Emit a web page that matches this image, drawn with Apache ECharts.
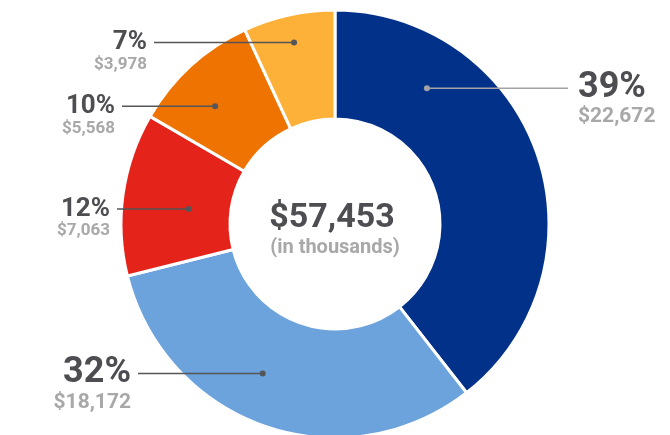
<!DOCTYPE html>
<html><head><meta charset="utf-8">
<script src="https://cdn.jsdelivr.net/npm/echarts@6/dist/echarts.min.js"></script>
<style>html,body{margin:0;padding:0;background:#fff}#c{width:670px;height:435px}</style>
</head><body><div id="c"></div>
<script>
// ---- data ----
const categories = ['Segment 1', 'Segment 2', 'Segment 3', 'Segment 4', 'Segment 5'];
const values = [22672, 18172, 7063, 5568, 3978];
const centerNote = '(in thousands)';

// ---- style ----
const colors = ['#02318A', '#6CA3DD', '#E4231B', '#EF7300', '#FEB139'];
const dotColors = ['#a3a3a6', '#55565a', '#55565a', '#55565a', '#55565a'];
const dotFrac = [0.24, 0.56, 0.45, 0.41, 0.49];   // where the dot sits inside each slice (angular fraction)
const dotR = [164, 166, 147, 168, 186];           // dot radius (px)
const lineEndX = [568, 138, 117, 122, 154];       // x where the leader line ends
const labelSide = ['right', 'left', 'left', 'left', 'left'];
const bigLabel = [true, true, false, false, false];

const CX = 335, CY = 224, R_IN = 105, R_OUT = 214;
const total = values.reduce((a, b) => a + b, 0);
const cum = [];
values.reduce((acc, v, i) => { cum[i] = acc; return acc + v; }, 0);
const dotAngleVal = values.map((v, i) => cum[i] + dotFrac[i] * v);
const fmt = n => n.toLocaleString('en-US');

const chart = echarts.init(document.getElementById('c'), null, { renderer: 'canvas' });

const DARK = '#4d4d52', GREY = '#a8a8a8';
const W = 'bold';

function dotPixel(i) {
  const th = dotAngleVal[i] / total * Math.PI * 2;
  return [CX + dotR[i] * Math.sin(th), CY - dotR[i] * Math.cos(th)];
}

function makeRich(i) {
  const [dx] = dotPixel(i);
  const right = labelSide[i] === 'right';
  const lineLen = Math.abs(dx - lineEndX[i]);
  const gap = right ? 10 : 7;
  const big = bigLabel[i];
  return {
    P: { fontFamily: 'Roboto', fontWeight: W, fontSize: big ? 36 : 26, lineHeight: big ? 36 : 26, color: DARK },
    V: { fontFamily: 'Roboto', fontWeight: W, fontSize: big ? 21 : 17, lineHeight: big ? 22 : 18, color: GREY },
    L: { width: lineLen, height: 1.5, backgroundColor: dotColors[i], verticalAlign: 'middle', fontSize: 1 },
    g: { width: gap, fontSize: 1 },
    h: { width: gap + lineLen, fontSize: 1 }
  };
}

chart.setOption({
  animation: false,
  polar: { center: [CX, CY], radius: R_OUT },
  angleAxis: { type: 'value', min: 0, max: total, startAngle: 90, clockwise: true, show: false },
  radiusAxis: { type: 'value', min: 0, max: R_OUT, show: false },
  graphic: [
    { type: 'text', x: CX - 3, y: 218, z: 100,
      style: { text: '$' + fmt(total), fontFamily: 'Roboto', fontWeight: W, fontSize: 34, fill: DARK, align: 'center', verticalAlign: 'middle' } },
    { type: 'text', x: CX, y: 248, z: 100,
      style: { text: centerNote, fontFamily: 'Roboto', fontWeight: W, fontSize: 20, fill: GREY, align: 'center', verticalAlign: 'middle' } }
  ],
  series: [
    {
      type: 'pie',
      z: 1,
      center: [CX, CY],
      radius: [R_IN, R_OUT],
      startAngle: 90,
      clockwise: true,
      silent: true,
      itemStyle: { borderColor: '#ffffff', borderWidth: 3 },
      label: { show: false },
      labelLine: { show: false },
      data: values.map((v, i) => ({
        name: categories[i],
        value: v,
        itemStyle: { color: colors[i] }
      }))
    },
    {
      type: 'scatter',
      coordinateSystem: 'polar',
      silent: true,
      z: 10,
      symbol: 'circle',
      symbolSize: 6,
      itemStyle: { opacity: 1 },
      label: {
        show: true,
        position: 'top',
        formatter: p => {
          const i = p.dataIndex;
          const v = values[i];
          const pct = Math.round(v / total * 100);
          return labelSide[i] === 'right'
            ? `{L| }{g| }{P|${pct}%}\n{h| }{V|$${fmt(v)}}`
            : `{P|${pct}%}{g| }{L| }\n{V|$${fmt(v)}}{h| }`;
        }
      },
      labelLayout: params => {
        const i = params.dataIndex;
        const [dx, dy] = dotPixel(i);
        const right = labelSide[i] === 'right';
        return {
          x: dx,
          y: dy - (bigLabel[i] ? 18 : 13),
          align: right ? 'left' : 'right',
          verticalAlign: 'top'
        };
      },
      data: values.map((v, i) => ({
        name: categories[i],
        value: [dotR[i], dotAngleVal[i]],
        itemStyle: { color: dotColors[i] },
        label: { rich: makeRich(i) }
      }))
    }
  ]
});
</script>
</body></html>
